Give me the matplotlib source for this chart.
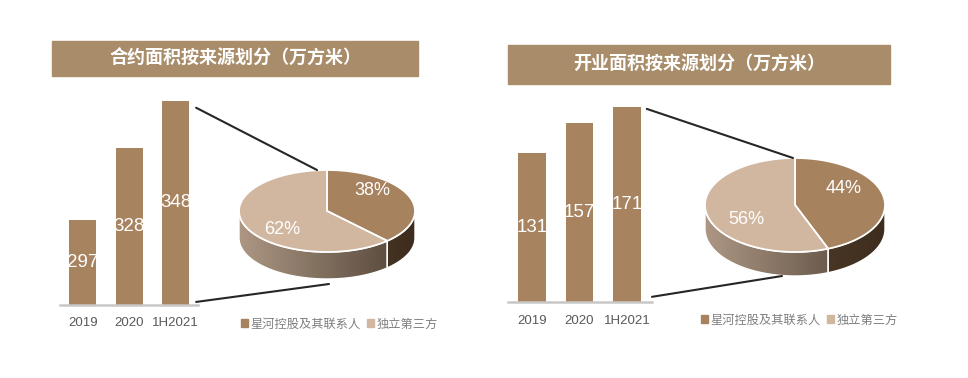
import math
import numpy as np
import matplotlib
matplotlib.use('Agg')
import matplotlib.pyplot as plt
from matplotlib.patches import Polygon, Rectangle, Patch, ConnectionPatch
from matplotlib.colors import LinearSegmentedColormap

plt.rcParams['font.family'] = ['Liberation Sans', 'Noto Sans CJK SC', 'DejaVu Sans']

# 数据
years = ['2019', '2020', '1H2021']
contractArea = [297, 328, 348]
startedArea = [131, 157, 171]
contractShare = [38, 62]    # 星河控股及其联系人, 独立第三方
startedShare = [44, 56]
legendLabels = ['星河控股及其联系人', '独立第三方']
titles = ['合约面积按来源划分（万方米）', '开业面积按来源划分（万方米）']

W, H = 968, 378
BANNER_COLOR = '#a98d6a'
BAR_COLOR = '#a8835f'
TOP_COLORS = ['#a7825e', '#d2b7a0']
SIDE_COLORS = [('#604832', '#3e2d1e'), ('#ad9784', '#4f4134')]

fig = plt.figure(figsize=(W / 100, H / 100), dpi=100)


def addAxes(x0, y0, x1, y1):
    """Оси по пиксельным координатам (начало сверху слева)"""
    return fig.add_axes([x0 / W, 1 - y1 / H, (x1 - x0) / W, (y1 - y0) / H])


ov = addAxes(0, 0, W, H)
ov.set_zorder(5)
ov.patch.set_visible(False)
ov.axis('off')


def setOverlayLimits():
    ov.set_xlim(0, W)
    ov.set_ylim(H, 0)


setOverlayLimits()


def drawBanner(x0, y0, x1, y1, title):
    ov.add_patch(Rectangle((x0, y0), x1 - x0, y1 - y0, color=BANNER_COLOR, zorder=1))
    ov.text((x0 + x1) / 2, (y0 + y1) / 2, title, ha='center', va='center', color='white',
            fontsize=13, fontweight='bold', family=['Noto Sans CJK SC', 'DejaVu Sans'], zorder=2)


def drawBars(box, values, ylim, xlim):
    ax = addAxes(*box)
    x = np.arange(len(values))
    ax.bar(x, values, width=0.58, color=BAR_COLOR)
    ax.set_xlim(xlim)
    ax.set_ylim(ylim)
    for side in ['top', 'right', 'left']:
        ax.spines[side].set_visible(False)
    ax.spines['bottom'].set_color('#c8c8c8')
    ax.spines['bottom'].set_linewidth(1.8)
    ax.set_yticks([])
    ax.set_xticks(x, years)
    ax.tick_params(axis='x', length=0, pad=9, labelsize=9.5, labelcolor='#595959')
    for xi, v in zip(x, values):
        ax.text(xi, (ylim[0] + v) / 2, str(v), ha='center', va='center', color='white', fontsize=13.5)
    ax.patch.set_visible(False)
    return ax


def ellipsePoint(cx, cy, rx, ry, deg):
    t = math.radians(deg)
    return cx + rx * math.sin(t), cy - ry * math.cos(t)


def drawPie3d(cx, cy, rx, ry, depth, shares):
    total = sum(shares)
    angles = [0.0]
    for s in shares:
        angles.append(angles[-1] + 360.0 * s / total)

    # боковая поверхность
    for i in range(len(shares)):
        s0 = max(angles[i], 90.0)
        s1 = min(angles[i + 1], 270.0)
        if s1 <= s0:
            continue
        arc = [ellipsePoint(cx, cy, rx, ry, d) for d in np.linspace(s0, s1, 80)]
        pts = arc + [(px, py + depth) for px, py in reversed(arc)]
        poly = Polygon(pts, closed=True, facecolor='none', edgecolor='white', linewidth=1.0, zorder=3)
        ov.add_patch(poly)
        cmap = LinearSegmentedColormap.from_list('side%d' % i, SIDE_COLORS[i])
        grad = np.linspace(0, 1, 256)[None, :]
        im = ov.imshow(grad, cmap=cmap, extent=(cx - rx, cx + rx, cy + ry + depth, cy - ry),
                       aspect='auto', zorder=2, interpolation='bilinear')
        im.set_clip_path(poly)

    # верхняя грань
    for i in range(len(shares)):
        arc = [ellipsePoint(cx, cy, rx, ry, d) for d in np.linspace(angles[i], angles[i + 1], 120)]
        pts = [(cx, cy)] + arc
        ov.add_patch(Polygon(pts, closed=True, facecolor=TOP_COLORS[i], edgecolor='white',
                             linewidth=1.3, joinstyle='round', zorder=4))

    # подписи процентов
    labelDy = [-12, 10]
    for i, s in enumerate(shares):
        mid = (angles[i] + angles[i + 1]) / 2
        lx, ly = ellipsePoint(cx, cy, rx * 0.55, ry * 0.55, mid)
        ov.text(lx, ly + labelDy[i], '%d%%' % s, ha='center', va='center', color='white',
                fontsize=13, zorder=6)
    setOverlayLimits()


def connect(ax, xyBar, xyPie):
    line = ConnectionPatch(xyA=xyBar, coordsA=ax.transData, xyB=xyPie, coordsB=ov.transData,
                           color='#262626', linewidth=1.5, zorder=7)
    ov.add_artist(line)


def drawLegend(ax, x, y):
    handles = [Patch(color=c) for c in TOP_COLORS]
    ax.legend(handles, legendLabels, loc='center left', bbox_to_anchor=(x, y),
              bbox_transform=ov.transData, ncol=2, frameon=False, handlelength=0.55,
              handleheight=0.55, handletextpad=0.25, columnspacing=0.5,
              labelcolor='#7f7f7f', borderpad=0, borderaxespad=0,
              prop={'family': ['Noto Sans CJK SC', 'DejaVu Sans'], 'size': 8.8})


# Левая панель
drawBanner(52, 41, 418, 76, titles[0])
leftYlim = (261, 350)
axL = drawBars((60, 96, 198, 305), contractArea, leftYlim, (-0.49, 2.48))
drawPie3d(327, 211, 88, 41, 27, contractShare)
connect(axL, (2.44, contractArea[-1] - 3), (317, 170))
connect(axL, (2.44, leftYlim[0] + 1.3), (329, 284))
drawLegend(axL, 241, 324)

# Правая панель
drawBanner(508, 45, 890, 84, titles[1])
rightYlim = (1, 175)
axR = drawBars((508, 102, 652, 302), startedArea, rightYlim, (-0.505, 2.53))
drawPie3d(795, 205, 90, 47, 24, startedShare)
connect(axR, (2.42, startedArea[-1] - 2), (793, 158))
connect(axR, (2.53, rightYlim[0] + 4.5), (782, 276))
drawLegend(axR, 701, 320)

fig.savefig('out.png', dpi=100, facecolor='white')
